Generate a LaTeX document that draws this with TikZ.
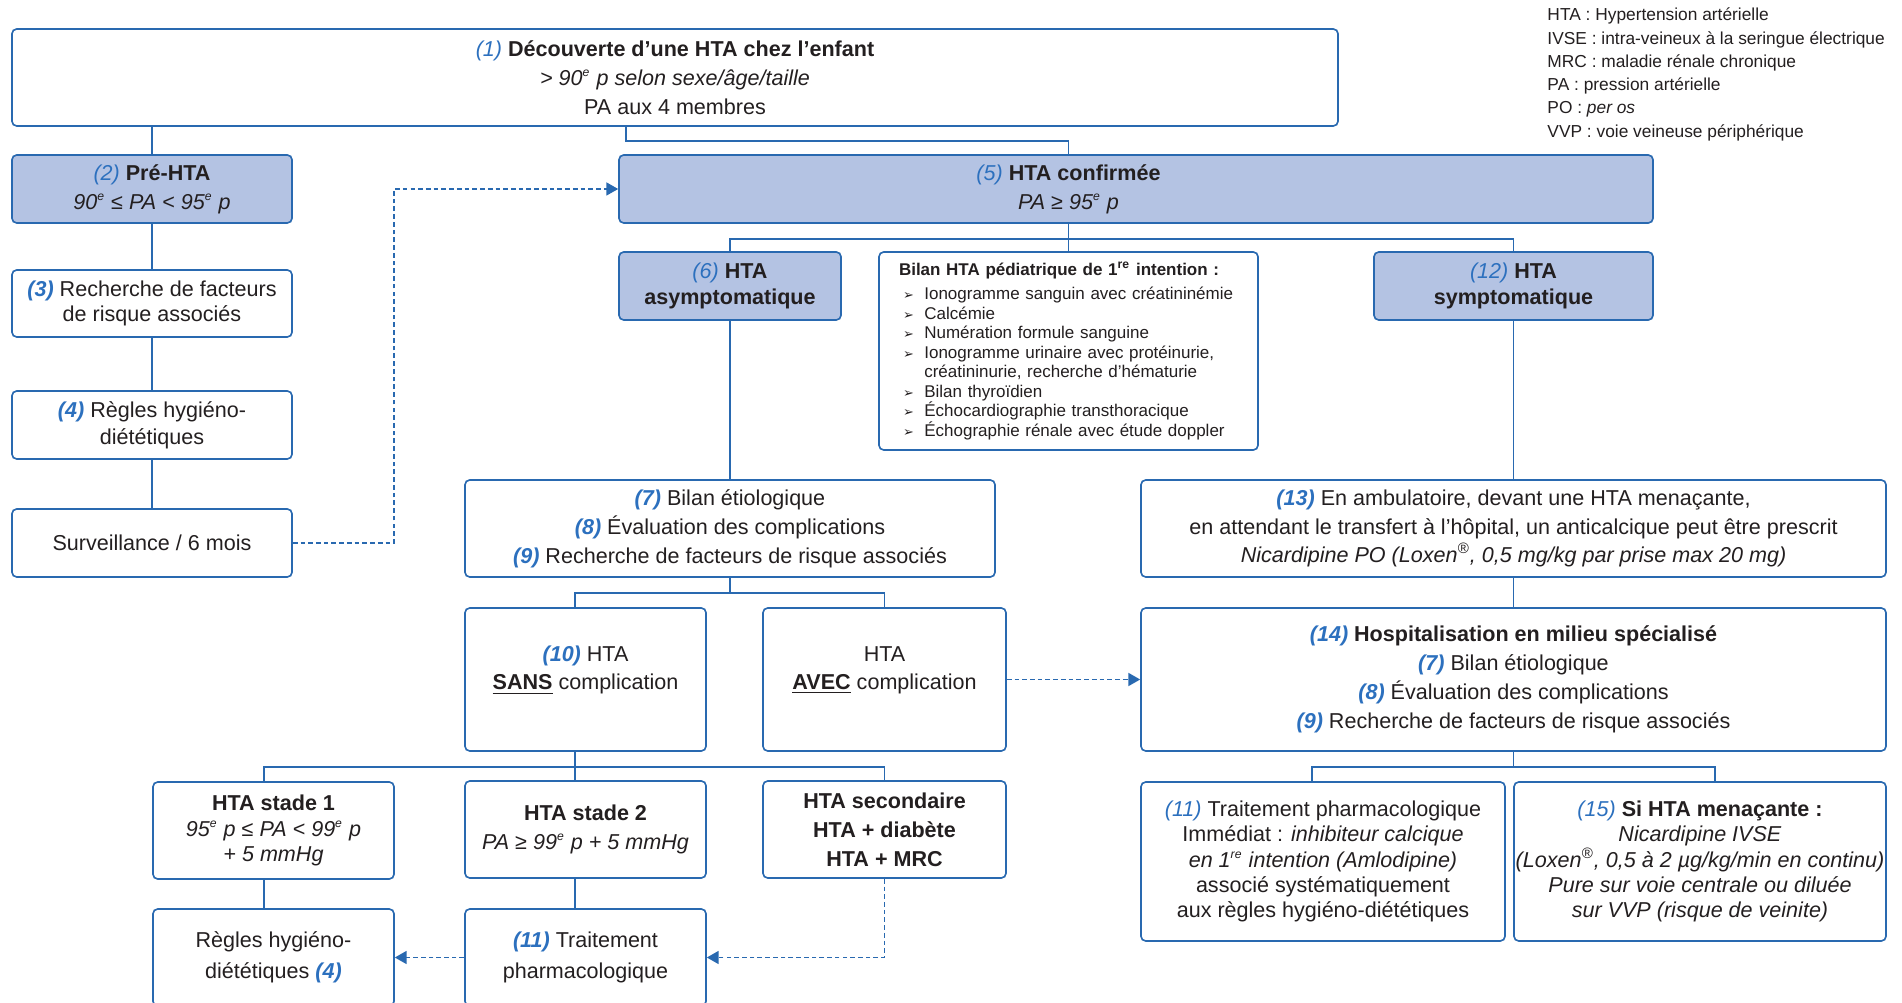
\documentclass[tikz,border=0pt]{standalone}
\usepackage{fontspec}
\setmainfont{Liberation Sans}
\newfontfamily\bulfont{DejaVu Sans}
\usetikzlibrary{arrows.meta}

\definecolor{hblue}{RGB}{41,105,176}
\definecolor{hfill}{RGB}{180,195,227}
\definecolor{hnum}{RGB}{44,112,190}
\definecolor{htext}{RGB}{35,31,32}

\newcommand{\px}{0.015cm}
\newcommand{\mainsz}{\fontsize{9.2}{12.3}\selectfont}
\newcommand{\tightsz}{\fontsize{9.2}{10.8}\selectfont}
\newcommand{\numbf}[1]{{\color{hnum}\bfseries\itshape #1}}
\newcommand{\numit}[1]{{\color{hnum}\itshape #1}}
\newcommand{\supe}[1]{\textsuperscript{\fontsize{5.2}{5.2}\selectfont #1}}
\newcommand{\itm}{\makebox[0.38cm][l]{\hspace{0.06cm}\bulfont\fontsize{5.5}{5.5}\selectfont ➢}}

\tikzset{
  wh/.style 2 args={minimum width=#1*\px, minimum height=#2*\px},
  box/.style={draw=hblue, line width=0.7pt, rounded corners=2pt, fill=white,
    align=center, inner sep=0pt, text=htext, font=\mainsz},
  hibox/.style={box, fill=hfill},
  txt/.style={align=center, inner sep=0pt, text=htext, font=\mainsz},
  link/.style={draw=hblue, line width=0.7pt},
  dlink/.style={link, dash pattern=on 2pt off 1.3pt, -{Triangle[length=5pt,width=5.5pt]}},
}

\begin{document}
\begin{tikzpicture}[x=\px, y=-\px]
    \useasboundingbox[fill=white] (0,0) rectangle (1902,1003);
    \clip (0,0) rectangle (1902,1003);

    % left column
    \node[box, wh={1326}{97}] (b1) at (675,77.5) {\numit{(1)} \textbf{Découverte d’une HTA chez l’enfant}\\
        \textit{> 90\supe{e} p selon sexe/âge/taille}\\ PA aux 4 membres};
    \node[hibox, wh={280}{68}] (b2) at (152,189) {\numit{(2)} \textbf{Pré-HTA}\\
        \textit{90\supe{e} ≤ PA < 95\supe{e} p}};
    \node[box, wh={280}{67}, font=\tightsz] (b3) at (152,303.5) {\numbf{(3)} Recherche de facteurs\\ de risque associés};
    \node[box, wh={280}{68}, font=\fontsize{9.2}{11.4}\selectfont] (b4) at (152,425) {\numbf{(4)} Règles hygiéno-\\diététiques};
    \node[box, wh={280}{68}] (bsurv) at (152,543) {Surveillance / 6 mois};

    % HTA confirmee
    \node[hibox, wh={1034}{68}] (b5) at (1136,189) {};
    \node[txt] (b5t) at (1068.5,189) {\numit{(5)} \textbf{HTA confirmée}\\ \textit{PA ≥ 95\supe{e} p}};
    \node[hibox, wh={222}{68}, font=\tightsz] (b6) at (730,286) {\numit{(6)} \textbf{HTA}\\ \textbf{asymptomatique}};
    \node[box, wh={379}{198}, text width=339*\px, align=left, font=\fontsize{7.25}{8.33}\selectfont] (bilan) at (1068.5,351) {%
        \textbf{Bilan HTA pédiatrique de 1\supe{re} intention :}\\[1.9pt]
        \itm Ionogramme sanguin avec créatininémie\\
        \itm Calcémie\\
        \itm Numération formule sanguine\\
        \itm Ionogramme urinaire avec protéinurie,\\
        \hspace*{0.38cm}créatininurie, recherche d’hématurie\\
        \itm Bilan thyroïdien\\
        \itm Échocardiographie transthoracique\\
        \itm Échographie rénale avec étude doppler};
    \node[hibox, wh={279}{68}, font=\tightsz] (b12) at (1513.5,286) {\numit{(12)} \textbf{HTA}\\ \textbf{symptomatique}};

    % asymptomatic branch
    \node[box, wh={530}{97}, font=\fontsize{9.2}{12.4}\selectfont] (b7) at (730,528.5) {\numbf{(7)} Bilan étiologique\\
        \numbf{(8)} Évaluation des complications\\ \numbf{(9)} Recherche de facteurs de risque associés};
    \node[box, wh={241}{143}] (b10) at (585.5,679.5) {};
    \node[txt, font=\fontsize{9.2}{11.9}\selectfont] (b10t) at (585.5,670.5) {\numbf{(10)} HTA\\ \underline{\textbf{SANS}} complication};
    \node[box, wh={243}{143}] (bavec) at (884.5,679.5) {};
    \node[txt, font=\fontsize{9.2}{11.9}\selectfont] (bavect) at (884.5,670.5) {HTA\\ \underline{\textbf{AVEC}} complication};
    \node[box, wh={241}{97}, font=\tightsz] (bst1) at (273.5,830.5) {\textbf{HTA stade 1}\\
        \textit{95\supe{e} p ≤ PA < 99\supe{e} p}\\ \textit{+ 5 mmHg}};
    \node[box, wh={241}{97}, font=\fontsize{9.2}{12.4}\selectfont] (bst2) at (585.5,829.5) {\textbf{HTA stade 2}\\
        \textit{PA ≥ 99\supe{e} p + 5 mmHg}};
    \node[box, wh={243}{97}] (bsec) at (884.5,829.5) {\textbf{HTA secondaire}\\ \textbf{HTA + diabète}\\ \textbf{HTA + MRC}};
    \node[box, wh={241}{97}, font=\fontsize{9.2}{13.4}\selectfont] (bregles) at (273.5,957.5) {Règles hygiéno-\\diététiques \numbf{(4)}};
    \node[box, wh={241}{97}, font=\fontsize{9.2}{12.9}\selectfont] (btrait) at (585.5,957.5) {\numbf{(11)} Traitement\\ pharmacologique};

    % symptomatic branch
    \node[box, wh={745}{97}] (b13) at (1513.5,528.5) {\numbf{(13)} En ambulatoire, devant une HTA menaçante,\\
        en attendant le transfert à l’hôpital, un anticalcique peut être prescrit\\
        \textit{Nicardipine PO (Loxen\textsuperscript{®}, 0,5 mg/kg par prise max 20 mg)}};
    \node[box, wh={745}{143}, font=\fontsize{9.2}{12.4}\selectfont] (b14) at (1513.5,679.5) {\numbf{(14)} \textbf{Hospitalisation en milieu spécialisé}\\
        \numbf{(7)} Bilan étiologique\\ \numbf{(8)} Évaluation des complications\\ \numbf{(9)} Recherche de facteurs de risque associés};
    \node[box, wh={364}{159}, font=\tightsz] (b11r) at (1323,861.5) {\numit{(11)} Traitement pharmacologique\\
        Immédiat : \textit{inhibiteur calcique}\\ \textit{en 1\supe{re} intention (Amlodipine)}\\
        associé systématiquement\\ aux règles hygiéno-diététiques};
    \node[box, wh={372}{159}, font=\tightsz] (b15) at (1700,861.5) {\numit{(15)} \textbf{Si HTA menaçante :}\\
        \textit{Nicardipine IVSE}\\ \textit{(Loxen\textsuperscript{®}, 0,5 à 2 µg/kg/min en continu)}\\
        \textit{Pure sur voie centrale ou diluée}\\ \textit{sur VVP (risque de veinite)}};

    % abbreviations
    \node[anchor=north west, align=left, inner sep=0pt, text=htext, font=\fontsize{7.4}{9.94}\selectfont] (legend) at (1547,7.5) {%
        HTA : Hypertension artérielle\\ IVSE : intra-veineux à la seringue électrique\\
        MRC : maladie rénale chronique\\ PA : pression artérielle\\ PO : \textit{per os}\\
        VVP : voie veineuse périphérique};

    % connectors
    \coordinate (k1) at (626,141);
    \coordinate (k2) at (394,189);
    \coordinate (k3) at (1068.5,239);
    \coordinate (k4) at (730,593);
    \coordinate (k5) at (575,593);
    \coordinate (k6) at (575,767);
    \coordinate (k7) at (264,767);
    \coordinate (k8) at (1513.5,767);
    \coordinate (k9) at (1312,767);
    \coordinate (k10) at (1715,767);

    \draw[link] (b1.south -| b2.north) -- (b2.north);
    \draw[link] (b1.south -| k1) -- (k1) -| (b5.north -| b5t);
    \draw[link] (b2) -- (b3);
    \draw[link] (b3) -- (b4);
    \draw[link] (b4) -- (bsurv);
    \draw[dlink] (bsurv.east) -| (k2) -- (b5.west);

    \draw[link] (b5.south -| k3) -- (bilan.north -| k3);
    \draw[link] (b6.north) |- (k3) -| (b12.north);
    \draw[link] (b6) -- (b7);
    \draw[link] (b12) -- (b13);
    \draw[link] (b13) -- (b14);

    \draw[link] (b7.south) -- (k4);
    \draw[link] (b10.north -| k5) -- (k5) -- (k4) -| (bavec.north);
    \draw[dlink] (bavec.east) -- (b14.west);
    \draw[link] (b10.south -| k6) -- (bst2.north -| k6);
    \draw[link] (bst1.north -| k7) -- (k7) -- (k6) -| (bsec.north);
    \draw[link] (bst1.south -| k7) -- (bregles.north -| k7);
    \draw[link] (bst2.south -| k6) -- (btrait.north -| k6);
    \draw[dlink] (btrait.west) -- (bregles.east);
    \draw[dlink] (bsec.south) |- (btrait.east);

    \draw[link] (b14.south) -- (k8);
    \draw[link] (b11r.north -| k9) -- (k9) -- (k10) -- (b15.north -| k10);
\end{tikzpicture}
\end{document}
